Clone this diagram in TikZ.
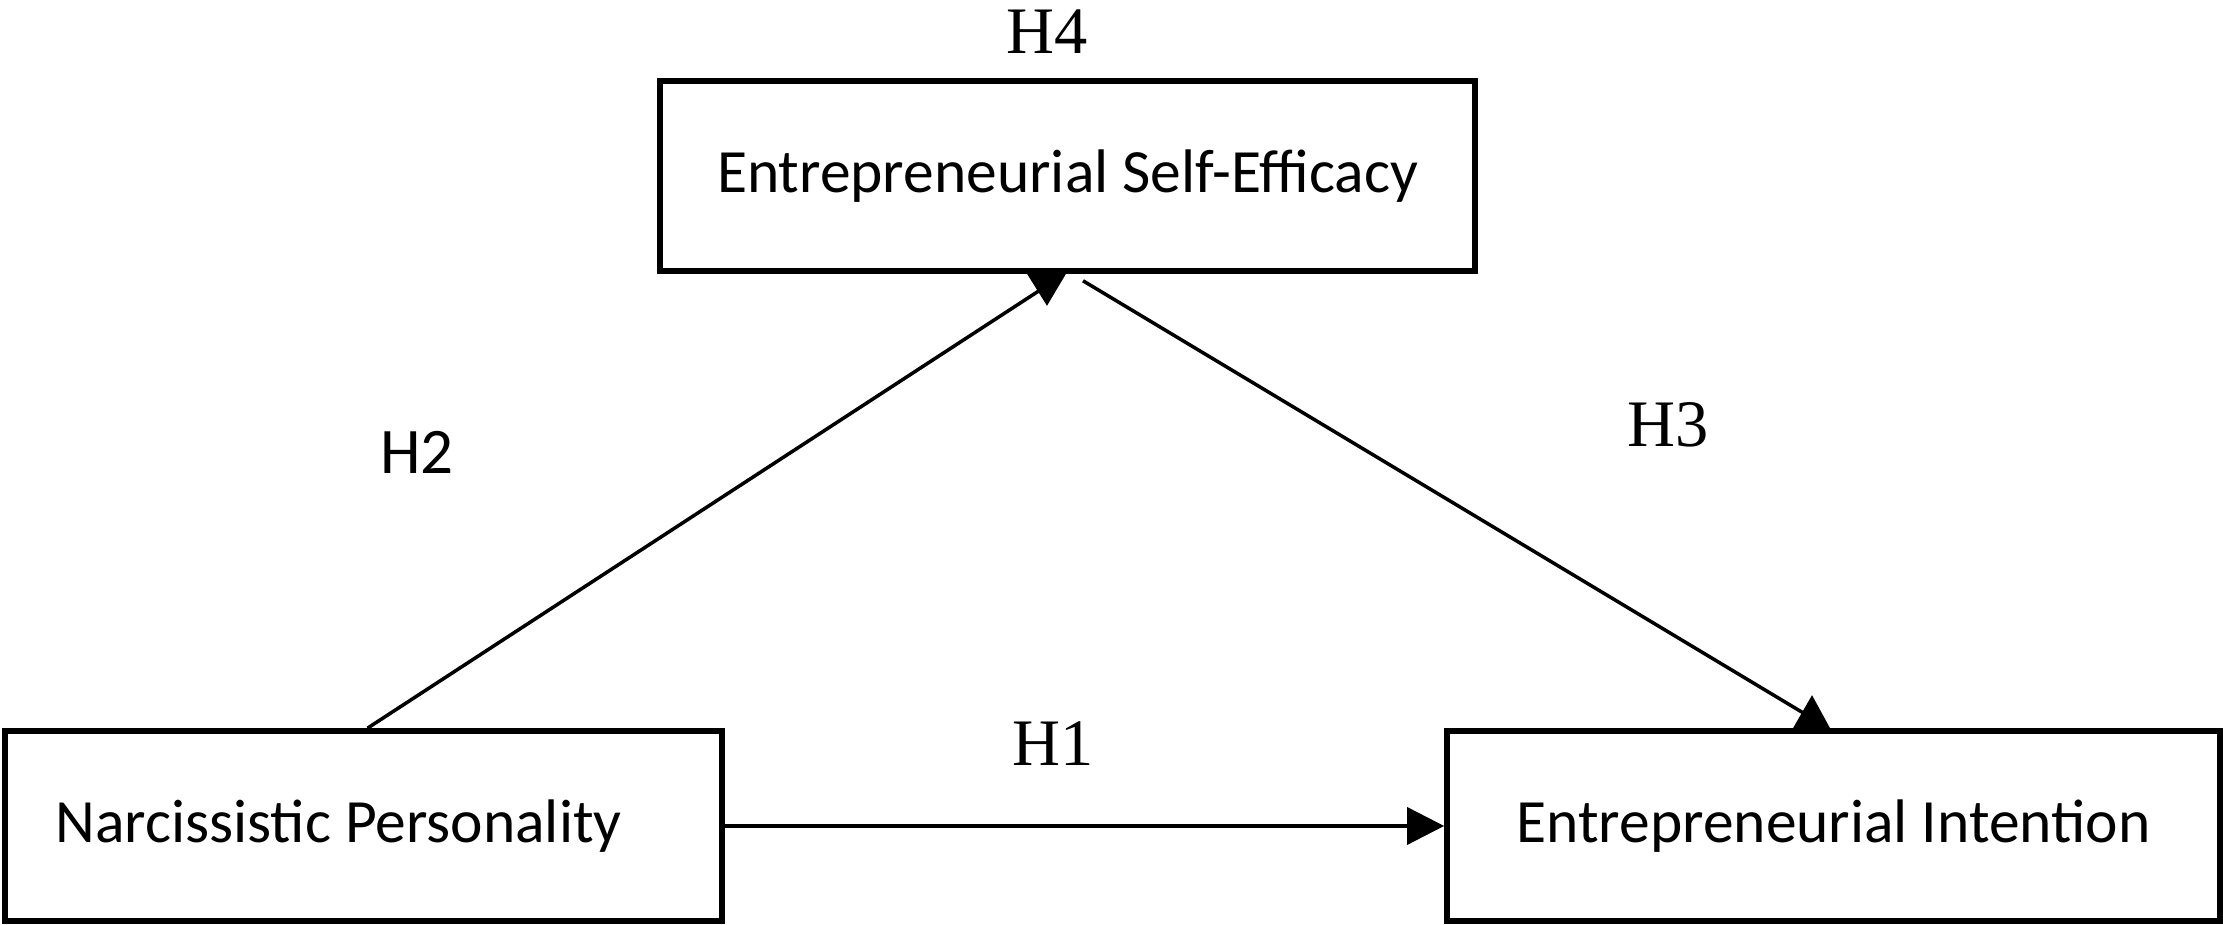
\documentclass[tikz,border=0pt]{standalone}
\usepackage{fontspec}
\setmainfont{Liberation Serif}
\newfontfamily\boxfont{Carlito}
\usetikzlibrary{arrows.meta}

\begin{document}
\begin{tikzpicture}[
        var/.style={draw, line width=1.6pt, fill=white, inner sep=0pt,
            minimum height=1.9cm, font=\boxfont\fontsize{17.5}{20}\selectfont},
        hyp/.style={font=\fontsize{18.9}{22}\selectfont},
        link/.style={line width=1pt},
    ]
    \useasboundingbox (0,0) rectangle (22.23,9.25);
    % boxes
    \node[var, minimum width=8.15cm] (ese) at (10.675,7.49) {Entrepreneurial Self-Efficacy};
    \node[var, minimum width=7.17cm] (np) at (3.635,0.99) {\hspace*{-0.5cm}Narcissistic Personality};
    \node[var, minimum width=7.73cm] (ei) at (18.335,0.99) {Entrepreneurial Intention};
    % hypotheses
    \node[hyp] (h4) at (10.47,8.93) {H4};
    \node[hyp, font=\boxfont\fontsize{18.5}{22}\selectfont] (h2) at (4.17,4.73) {H2};
    \node[hyp] (h3) at (16.68,5.00) {H3};
    \node[hyp] (h1) at (10.53,1.81) {H1};
    % paths
    \draw[link, -{Triangle[length=0.37cm, width=0.37cm]}] (np.east) -- (ei.west);
    \draw[link] ([xshift=0.04cm]np.north) -- ([xshift=-0.07cm, yshift=-0.03cm]ese.south);
    \fill ([xshift=-0.405cm]ese.south) -- ([xshift=-0.015cm]ese.south) --
        ([xshift=-0.205cm, yshift=-0.32cm]ese.south) -- cycle;
    \draw[link] ([xshift=0.155cm, yshift=-0.07cm]ese.south) -- ([xshift=-0.215cm, yshift=0.1cm]ei.north);
    \fill ([xshift=-0.405cm]ei.north) -- ([xshift=-0.035cm]ei.north) --
        ([xshift=-0.215cm, yshift=0.33cm]ei.north) -- cycle;
\end{tikzpicture}
\end{document}
